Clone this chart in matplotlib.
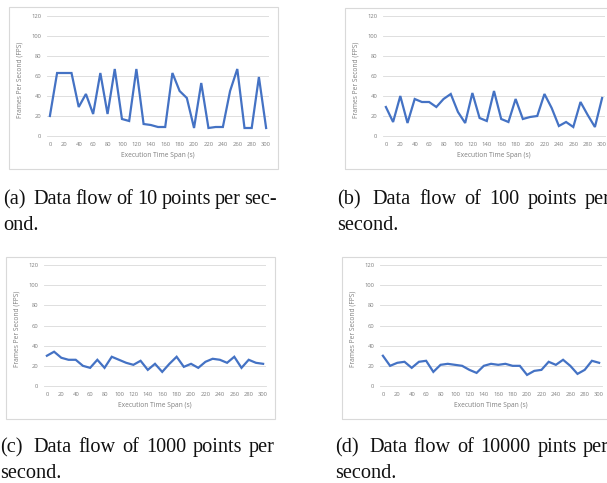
import matplotlib
matplotlib.use("Agg")
import matplotlib.pyplot as plt
from matplotlib.patches import Rectangle

# execution time (s), one sample every 10 s
time_s = list(range(0, 301, 10))

fps_10 = [20, 63, 63, 63, 29, 42, 22, 63, 22, 67, 17, 15, 67, 12, 11, 9,
          9, 63, 45, 38, 8, 53, 8, 9, 9, 45, 67, 8, 8, 59, 8]
fps_100 = [29, 14, 40, 13, 37, 34, 34, 29, 37, 42, 24, 13, 43, 18, 15, 45,
           17, 14, 37, 17, 19, 20, 42, 28, 10, 14, 9, 34, 21, 9, 38]
fps_1000 = [30, 34, 28, 26, 26, 20, 18, 26, 18, 29, 26, 23, 21, 25, 16, 22,
            14, 22, 29, 19, 22, 18, 24, 27, 26, 23, 29, 18, 26, 23, 22]
fps_10000 = [30, 20, 23, 24, 18, 24, 25, 14, 21, 22, 21, 20, 16, 13, 20, 22,
             21, 22, 20, 20, 11, 15, 16, 24, 21, 26, 20, 12, 16, 25, 23]

x_ticks = list(range(0, 301, 20))
y_ticks = list(range(0, 121, 20))

captions = [
    ["(a)", "Data flow of 10 points per sec-", "ond."],
    ["(b)", "Data flow of 100 points per", "second."],
    ["(c)", "Data flow of 1000 points per", "second."],
    ["(d)", "Data flow of 10000 pints per", "second."],
]

W, H = 607, 483
fig = plt.figure(figsize=(W / 100, H / 100), dpi=100, facecolor="white")


def px_rect(x0, y0, x1, y1):
    # pixel box (top-left origin) -> figure fraction [left, bottom, width, height]
    return [x0 / W, (H - y1) / H, (x1 - x0) / W, (y1 - y0) / H]


def draw_chart(ax_box, frame_box, values):
    fx0, fy0, fx1, fy1 = frame_box
    fig.patches.append(Rectangle((fx0 / W, (H - fy1) / H), (fx1 - fx0) / W, (fy1 - fy0) / H,
                                 transform=fig.transFigure, fill=False,
                                 edgecolor="#d9d9d9", linewidth=0.8))
    ax = fig.add_axes(px_rect(*ax_box))
    ax.plot(time_s, values, color="#4472c4", linewidth=1.6, solid_joinstyle="miter")
    ax.set_xlim(-4, 304)
    ax.set_ylim(0, 120)
    ax.set_xticks(x_ticks)
    ax.set_yticks(y_ticks)
    ax.tick_params(length=0, labelsize=4.2, labelcolor="#7f7f7f", pad=4)
    ax.grid(axis="y", color="#d9d9d9", linewidth=0.6)
    ax.set_axisbelow(True)
    for s in ["top", "right", "left"]:
        ax.spines[s].set_visible(False)
    ax.spines["bottom"].set_color("#d9d9d9")
    ax.spines["bottom"].set_linewidth(0.6)
    ax.set_xlabel("Execution Time Span (s)", fontsize=4.8, color="#7f7f7f", family="Open Sans")
    ax.set_ylabel("Frames Per Second (FPS)", fontsize=4.8, color="#7f7f7f", family="Open Sans")
    ax.xaxis.set_label_coords(0.5, -0.13)
    ax.yaxis.set_label_coords(-0.105, 0.47)
    for lab in ax.get_xticklabels() + ax.get_yticklabels():
        lab.set_family("Open Sans")
    return ax


draw_chart((47, 16, 269, 136), (9, 7, 278, 169), fps_10)
draw_chart((383, 16, 605, 136), (345, 8, 640, 169), fps_100)
draw_chart((44, 265, 266, 386), (6, 257, 275, 419), fps_1000)
draw_chart((380, 265, 602, 386), (342, 257, 640, 419), fps_10000)

# captions: first line justified between x0 and x1 like the LaTeX subcaptions
cap_pos = [(3, 277, 204), (337, 611, 204), (0, 275, 452), (335, 609, 452)]
cap_style = dict(fontsize=14.6, family="Liberation Serif", color="#111111",
                 va="baseline", ha="left")
label_extra = 4
renderer = fig.canvas.get_renderer()
for (x0, x1, cy), (label, first, second) in zip(cap_pos, captions):
    words = [label] + first.split()
    texts = [fig.text(0, (H - cy) / H, w, **cap_style) for w in words]
    widths = [t.get_window_extent(renderer).width for t in texts]
    gap = (x1 - x0 - sum(widths) - label_extra) / (len(words) - 1)
    x = x0
    for i, (t, w) in enumerate(zip(texts, widths)):
        t.set_x(x / W)
        x += w + gap + (label_extra if i == 0 else 0)
    fig.text(x0 / W, (H - cy - 26) / H, second, **cap_style)

fig.savefig("out.png", dpi=100)
